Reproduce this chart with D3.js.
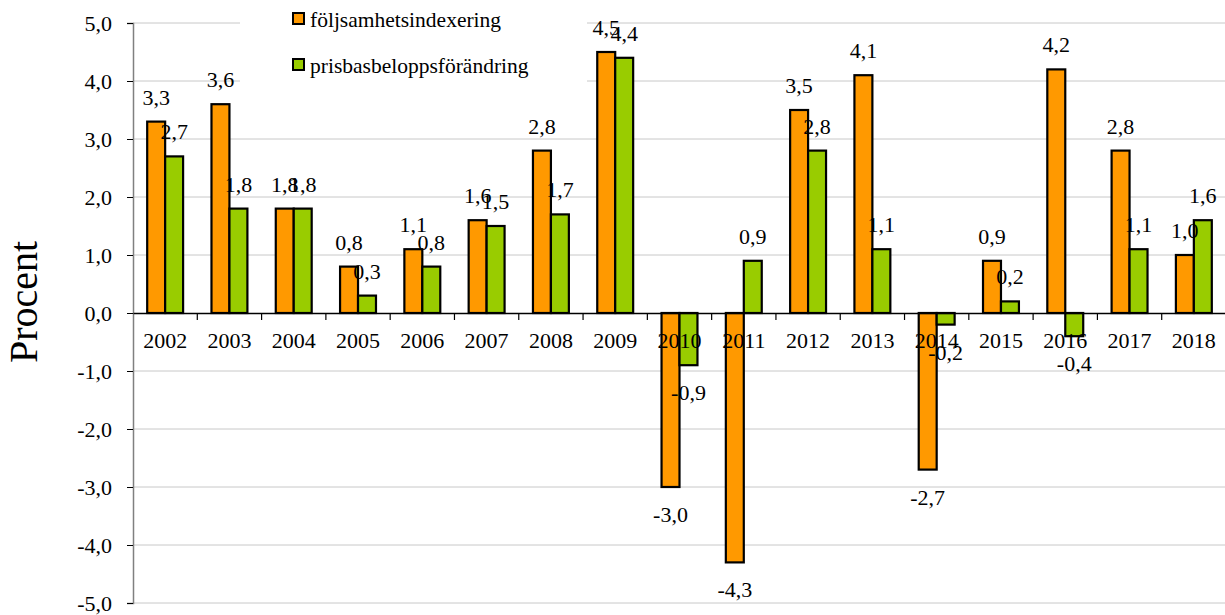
<!DOCTYPE html>
<html>
<head>
<meta charset="utf-8">
<script src="https://cdn.jsdelivr.net/npm/d3@7"></script>
<style>
  body { margin: 0; background: #fff; }
  svg text { font-family: "Liberation Serif", "Times New Roman", serif; fill: #000; }
</style>
</head>
<body>
<div id="chart"></div>
<script>
// Data
const years = ["2002", "2003", "2004", "2005", "2006", "2007", "2008", "2009", "2010",
               "2011", "2012", "2013", "2014", "2015", "2016", "2017", "2018"];
const seriesNames = ["följsamhetsindexering", "prisbasbeloppsförändring"];
const foljsamhet = [3.3, 3.6, 1.8, 0.8, 1.1, 1.6, 2.8, 4.5, -3.0, -4.3, 3.5, 4.1, -2.7, 0.9, 4.2, 2.8, 1.0];
const prisbas = [2.7, 1.8, 1.8, 0.3, 0.8, 1.5, 1.7, 4.4, -0.9, 0.9, 2.8, 1.1, -0.2, 0.2, -0.4, 1.1, 1.6];
const yTicks = [-5, -4, -3, -2, -1, 0, 1, 2, 3, 4, 5];
const colors = ["#FF9900", "#99CC00"];

const svgWidth = 1225;
const svgHeight = 615;
const serif = "Liberation Serif, Times New Roman, serif";

const fmt = v => v.toFixed(1).replace(".", ",");

const svg = d3.select("#chart")
  .append("svg")
  .attr("width", svgWidth)
  .attr("height", svgHeight)
  .attr("font-family", serif);

// scales
const x = d3.scaleBand()
  .domain(years)
  .range([133, 1226])
  .padding(0);

const xs = d3.scaleBand()
  .domain(seriesNames)
  .range([0, x.bandwidth()])
  .paddingInner(0)
  .paddingOuter(0.79);

const y = d3.scaleLinear()
  .domain([-5, 5])
  .range([603, 23]);

// gridlines
svg.append("g")
  .selectAll("line")
  .data(yTicks.filter(d => d !== 0))
  .enter()
  .append("line")
  .attr("x1", 133)
  .attr("x2", svgWidth)
  .attr("y1", d => y(d))
  .attr("y2", d => y(d))
  .attr("stroke", "#c8c8c8")
  .attr("stroke-width", 1);

// legend background hides the gridlines behind it
svg.append("rect")
  .attr("x", 240)
  .attr("y", 0)
  .attr("width", 347)
  .attr("height", 100)
  .attr("fill", "#fff");

// bars
const rows = years.map((yr, i) => ({ year: yr, values: [foljsamhet[i], prisbas[i]] }));

const groups = svg.append("g")
  .selectAll("g")
  .data(rows)
  .enter()
  .append("g")
  .attr("transform", d => `translate(${x(d.year)},0)`);

groups.selectAll("rect")
  .data(d => d.values.map((v, k) => ({ name: seriesNames[k], value: v, k: k })))
  .enter()
  .append("rect")
  .attr("x", d => xs(d.name))
  .attr("width", xs.bandwidth())
  .attr("y", d => y(Math.max(0, d.value)))
  .attr("height", d => Math.abs(y(d.value) - y(0)))
  .attr("fill", d => colors[d.k])
  .attr("stroke", "#000")
  .attr("stroke-width", 2.2);

// y axis
const leftAxis = d3.axisLeft(y)
  .tickValues(yTicks)
  .tickSize(6)
  .tickFormat(fmt);

const yAxis = svg.append("g")
  .attr("transform", "translate(133,0)")
  .call(leftAxis)
  .attr("font-family", serif);

yAxis.select(".domain").attr("stroke", "#808080").attr("stroke-width", 1.5);
yAxis.selectAll(".tick line").attr("stroke", "#000");
yAxis.selectAll(".tick text")
  .attr("x", -21)
  .attr("font-size", 22);

// x axis along zero
const bottomAxis = d3.axisBottom(x)
  .tickSize(0)
  .tickPadding(0);

const xAxis = svg.append("g")
  .attr("transform", `translate(0,${y(0)})`)
  .call(bottomAxis)
  .attr("font-family", serif);

xAxis.select(".domain").attr("stroke", "#000").attr("stroke-width", 1.5);
xAxis.selectAll(".tick text")
  .attr("y", 35)
  .attr("dy", 0)
  .attr("font-size", 22);

// tick marks between categories
xAxis.append("g")
  .selectAll("line")
  .data(years.slice(1))
  .enter()
  .append("line")
  .attr("x1", d => x(d))
  .attr("x2", d => x(d))
  .attr("y1", 0)
  .attr("y2", 7)
  .attr("stroke", "#000")
  .attr("stroke-width", 1.2);

// data labels
groups.selectAll("text.val")
  .data(d => d.values.map((v, k) => ({ name: seriesNames[k], value: v, k: k })))
  .enter()
  .append("text")
  .attr("class", "val")
  .attr("x", d => xs(d.name) + xs.bandwidth() / 2)
  .attr("y", d => d.value >= 0 ? y(d.value) - 17 : y(d.value) + 35)
  .attr("text-anchor", "middle")
  .attr("font-size", 22)
  .text(d => fmt(d.value));

// y axis title
svg.append("text")
  .attr("transform", "translate(37,302) rotate(-90)")
  .attr("text-anchor", "middle")
  .attr("font-size", 40)
  .text("Procent");

// legend
const legend = svg.append("g");
seriesNames.forEach((name, k) => {
  const cy = 19 + k * 46;
  legend.append("rect")
    .attr("x", 293)
    .attr("y", cy - 6)
    .attr("width", 11)
    .attr("height", 11)
    .attr("fill", colors[k])
    .attr("stroke", "#000")
    .attr("stroke-width", 2);
  legend.append("text")
    .attr("x", 310)
    .attr("y", cy + 8)
    .attr("font-size", 21.5)
    .text(name);
});
</script>
</body>
</html>
